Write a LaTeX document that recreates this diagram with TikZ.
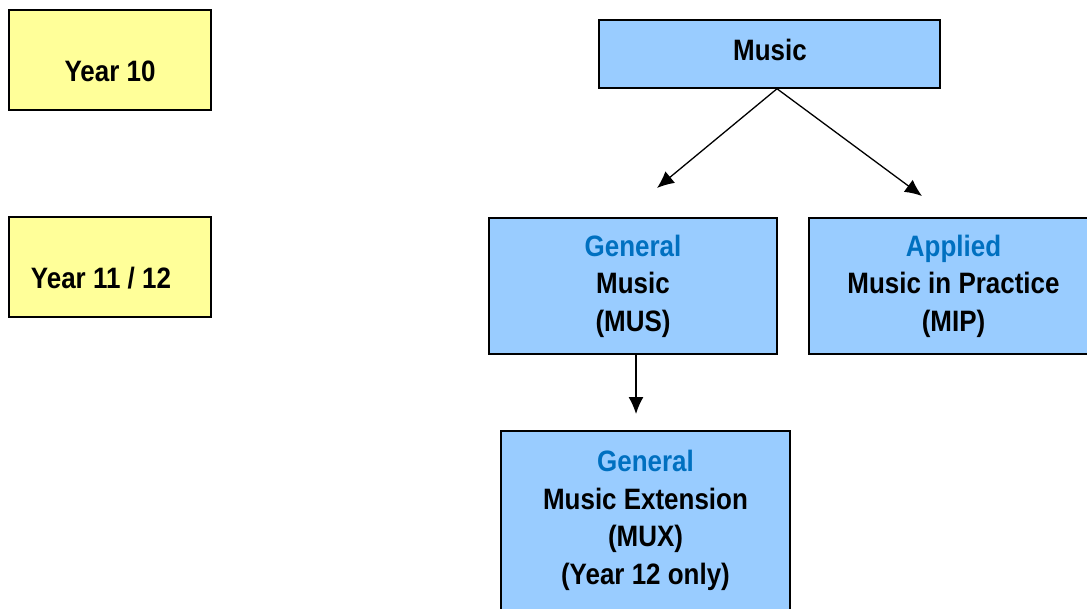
\documentclass[tikz,border=0pt]{standalone}
\usepackage{fontspec}
\setmainfont[FakeStretch=0.88]{Liberation Sans}
\usetikzlibrary{arrows.meta}

\definecolor{yearyellow}{RGB}{255,255,153}
\definecolor{courseblue}{RGB}{153,204,255}
\definecolor{typeblue}{RGB}{0,112,192}

\tikzset{
  yearbox/.style={draw=black, line width=1.5pt, fill=yearyellow, minimum width=202pt, minimum height=100pt, inner sep=0pt},
  coursebox/.style={draw=black, line width=1.5pt, fill=courseblue, align=center, inner sep=0pt, font=\bfseries\fontsize{29.5}{37.5}\selectfont},
  yeartext/.style={font=\bfseries\fontsize{29.5}{37.5}\selectfont, inner sep=0pt},
  flow/.style={->, line width=1.3pt}
}

\begin{document}
\begin{tikzpicture}[x=1pt, y=-1pt, >={Latex[length=17pt,width=15pt]}]

% Page frame
\useasboundingbox (0,0) rectangle (1087,608);
\fill[white] (0,0) rectangle (1087,608);
\clip (0,0) rectangle (1087,608);

% YEAR LEVELS
\node[yearbox] (year10) at (110,60) {};
\node[yeartext] (year10txt) at (110,71) {Year 10};

\node[yearbox] (year1112) at (110,267) {};
\node[yeartext] (year1112txt) at (101,278) {Year 11 / 12};

% COURSES
\node[coursebox, minimum width=341pt, minimum height=68pt] (music) at (769.5,54) {};
\node[yeartext] (musictxt) at (770,50) {Music};

\node[coursebox, minimum width=288pt, minimum height=136pt] (general) at (633,286)
  {{\color{typeblue}General}\\Music\\(MUS)};
\node[coursebox, minimum width=289pt, minimum height=136pt] (applied) at (953.5,286)
  {{\color{typeblue}Applied}\\Music in Practice\\(MIP)};

\node[coursebox, minimum width=289pt, minimum height=182pt] (extension) at (645.5,522) {};
\node[coursebox, draw=none, fill=none] (extensiontxt) at (645.5,520.5)
  {{\color{typeblue}General}\\Music Extension\\(MUX)\\(Year 12 only)};

% Arrow ends stop short of the boxes
\coordinate (leftend) at (657,188);
\coordinate (rightend) at (922,196);
\coordinate (downend) at (636,414);

\draw[flow] ([xshift=7.5pt]music.south) -- (leftend);
\draw[flow] ([xshift=7.5pt]music.south) -- (rightend);
\draw[flow] ([xshift=3pt]general.south) -- (downend);

\end{tikzpicture}
\end{document}
